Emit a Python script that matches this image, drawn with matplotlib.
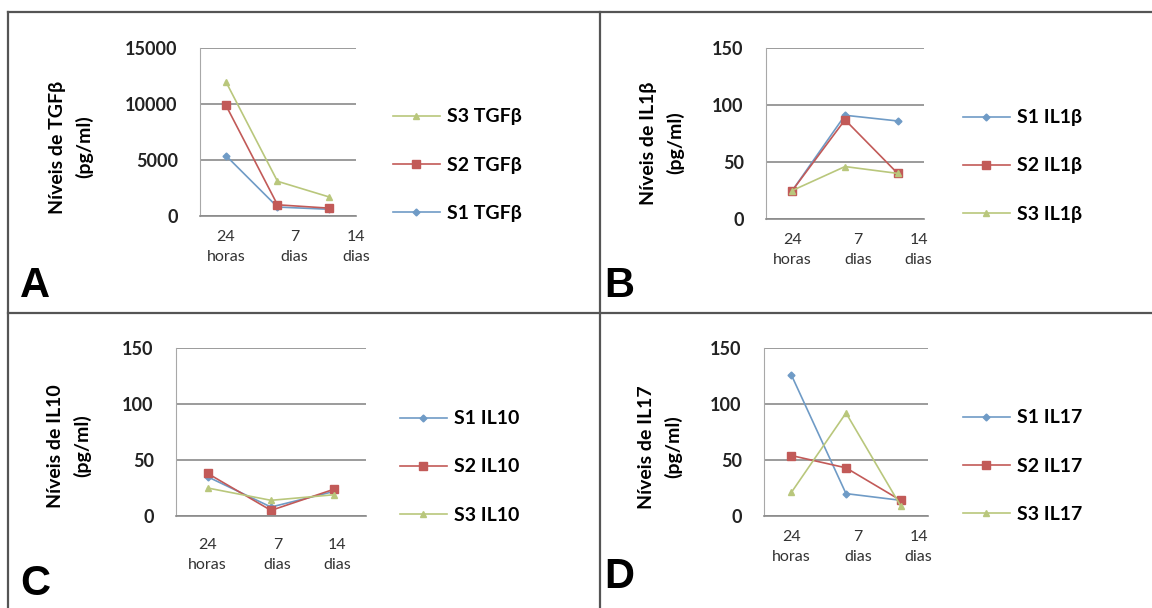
import matplotlib
matplotlib.use('Agg')
import matplotlib.pyplot as plt
from matplotlib.lines import Line2D

plt.rcParams['font.family'] = ['Lato', 'DejaVu Sans']

# data
categories = ['24\nhoras', '7\ndias', '14\ndias']

tgf_s1 = [5400, 800, 600]
tgf_s2 = [9900, 1000, 700]
tgf_s3 = [12000, 3100, 1700]

il1b_s1 = [25, 91, 86]
il1b_s2 = [25, 87, 40]
il1b_s3 = [25, 46, 40]

il10_s1 = [35, 8, 22]
il10_s2 = [38, 5, 24]
il10_s3 = [25, 14, 19]

il17_s1 = [126, 20, 14]
il17_s2 = [54, 43, 14]
il17_s3 = [21, 92, 9]

W, H = 1152, 608
c1, c2, c3 = '#6f9bc6', '#c25a58', '#b9c77c'
grid_col = '#8a8a8a'

fig = plt.figure(figsize=(W / 100, H / 100), dpi=100)


def px_box(x0, y0, x1, y1):
    return [x0 / W, 1 - y1 / H, (x1 - x0) / W, (y1 - y0) / H]


def panel(box, s1, s2, s3, name, yticks, label_pos, ylab_xy, leg_xy, letter, letter_xy,
          xpad, reverse_legend=False):
    ax = fig.add_axes(px_box(*box))
    x = range(len(categories))
    l1, = ax.plot(x, s1, color=c1, marker='D', ms=3.5, lw=1.2, label='S1 ' + name)
    l2, = ax.plot(x, s2, color=c2, marker='s', ms=6, lw=1.2, label='S2 ' + name)
    l3, = ax.plot(x, s3, color=c3, marker='^', ms=5, lw=1.2, label='S3 ' + name)

    ax.set_xlim(-0.5, len(categories) - 0.5)
    ax.set_ylim(yticks[0], yticks[-1])
    ax.set_yticks(yticks)
    ax.set_yticklabels([str(t) for t in yticks], fontsize=13, fontweight='bold', color='#222222')
    ax.set_xticks(label_pos)
    ax.set_xticklabels(categories, fontsize=11.5, color='#333333', linespacing=1.55)
    ax.tick_params(axis='y', length=0, pad=16)
    ax.tick_params(axis='x', length=0, pad=xpad)

    ax.yaxis.grid(True, color=grid_col, lw=1.2)
    ax.set_axisbelow(True)
    for s in ['top', 'right']:
        ax.spines[s].set_visible(False)
    ax.spines['left'].set_color('#a8a8a8')
    ax.spines['bottom'].set_color(grid_col)
    ax.spines['bottom'].set_linewidth(1.2)

    fig.text(ylab_xy[0] / W, 1 - ylab_xy[1] / H, 'Níveis de ' + name + '\n(pg/ml)',
             rotation=90, ha='center', va='center', fontsize=14, fontweight='bold',
             linespacing=1.6)

    handles = [l1, l2, l3]
    if reverse_legend:
        handles = handles[::-1]
    ax.legend(handles=handles, loc='center left',
              bbox_to_anchor=(leg_xy[0] / W, 1 - leg_xy[1] / H),
              bbox_transform=fig.transFigure, frameon=False, borderpad=0,
              borderaxespad=0, prop={'weight': 'bold', 'size': 14},
              labelspacing=1.6, handlelength=2.4, handletextpad=0.4)

    fig.text(letter_xy[0] / W, 1 - letter_xy[1] / H, letter, fontsize=30,
             fontweight='bold', family='Liberation Sans', ha='left', va='baseline')
    return ax


panel((200, 48, 356, 216), tgf_s1, tgf_s2, tgf_s3, 'TGFβ', [0, 5000, 10000, 15000],
      [0, 1.33, 2.52], (71, 147), (393, 165), 'A', (20, 297), 10, reverse_legend=True)
panel((766, 48, 924, 219), il1b_s1, il1b_s2, il1b_s3, 'IL1β', [0, 50, 100, 150],
      [0, 1.25, 2.4], (662, 143), (963, 166), 'B', (604, 297), 10)
panel((176, 348, 366, 516), il10_s1, il10_s2, il10_s3, 'IL10', [0, 50, 100, 150],
      [0, 1.1, 2.04], (69, 446), (400, 467), 'C', (20, 595), 16)
panel((764, 348, 928, 516), il17_s1, il17_s2, il17_s3, 'IL17', [0, 50, 100, 150],
      [0, 1.22, 2.33], (660, 447), (963, 466), 'D', (604, 588), 10)

# panel frame lines
for (xa, ya), (xb, yb) in [((8, 12), (W, 12)), ((8, 12), (8, H)),
                           ((600, 12), (600, H)), ((8, 313), (W, 313))]:
    fig.add_artist(Line2D([xa / W, xb / W], [1 - ya / H, 1 - yb / H],
                          transform=fig.transFigure, color='#555555', lw=1.6))

fig.savefig('out.png', dpi=100)
